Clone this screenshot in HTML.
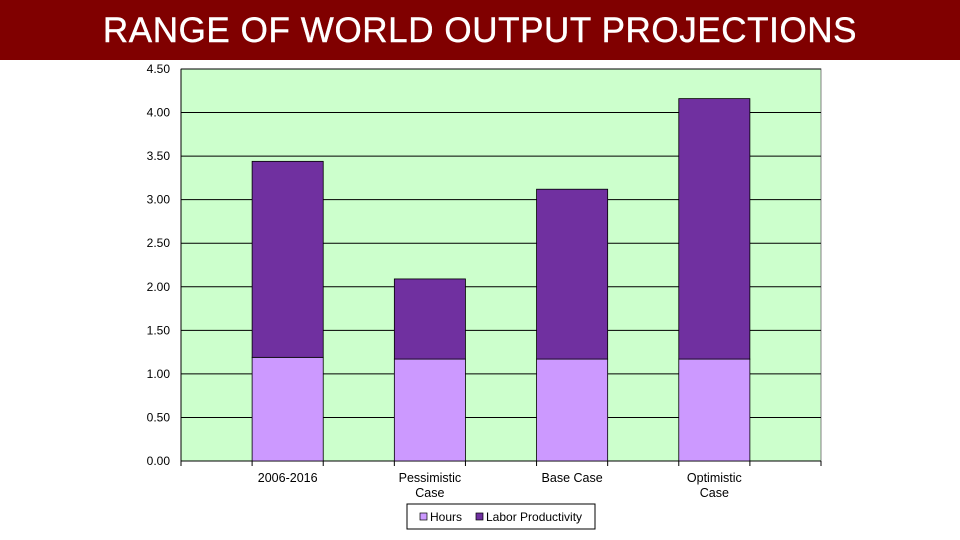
<!DOCTYPE html>
<html><head><meta charset="utf-8"><style>
body{margin:0;width:960px;height:540px;background:#fff;overflow:hidden;font-family:"Liberation Sans",sans-serif}
#title{position:absolute;left:0;top:0;width:960px;height:60px;background:#800000;color:#fff;font-size:35px;text-align:center;line-height:62px;letter-spacing:0.6px;-webkit-text-stroke:0.4px #fff}
</style></head><body>
<div id="title">RANGE OF WORLD OUTPUT PROJECTIONS</div>
<svg id="chart" width="960" height="540" style="position:absolute;left:0;top:0"></svg>
<script>
const categories=[["2006-2016"],["Pessimistic","Case"],["Base Case"],["Optimistic","Case"]];
const hours=[1.19,1.17,1.17,1.17];
const labor=[2.25,0.92,1.95,2.99];
const yTicks=[0,0.5,1,1.5,2,2.5,3,3.5,4,4.5];
const ns="http://www.w3.org/2000/svg";
const svg=document.getElementById('chart');
const X0=181,X1=821,Y0=461,Y1=69,YMAX=4.5;
const band=(X1-X0)/9;
function y(v){return Y0-(v/YMAX)*(Y0-Y1);}
function bx(i){return X0+band*(2*i+1);}
function mk(t,a){const e=document.createElementNS(ns,t);for(const k in a)e.setAttribute(k,a[k]);svg.appendChild(e);return e;}
let e=mk('rect',{x:X0,y:Y1,width:X1-X0,height:Y0-Y1,fill:'#ccffcc',stroke:'#808080','stroke-width':1});


yTicks.forEach(v=>{
 let g=mk('line',{x1:X0,x2:X1,y1:y(v),y2:y(v),stroke:'#000','stroke-width':1});
 
 
 let t=mk('text',{x:170,y:y(v)+4,'text-anchor':'end','font-size':12,fill:'#000'});
 t.textContent=v.toFixed(2);
 
 
});
for(let i=0;i<=9;i++){
 let l=mk('line',{x1:X0+band*i,x2:X0+band*i,y1:Y0,y2:Y0+5,stroke:'#000'});
 
 
}
mk('line',{x1:X0,x2:X0,y1:Y1,y2:Y0,stroke:'#000'});
mk('line',{x1:X0,x2:X1,y1:Y0,y2:Y0,stroke:'#000'});
categories.forEach((c,i)=>{
 let r=mk('rect',{x:bx(i),y:y(hours[i]),width:band,height:y(0)-y(hours[i]),fill:'#cc99ff',stroke:'#000','stroke-width':0.8});
 
 
 let r2=mk('rect',{x:bx(i),y:y(hours[i]+labor[i]),width:band,height:y(hours[i])-y(hours[i]+labor[i]),fill:'#7030a0',stroke:'#000','stroke-width':0.8});
 
 
 c.forEach((s,j)=>{
  let t=mk('text',{x:bx(i)+band/2,y:482+j*15,'text-anchor':'middle','font-size':12.5,fill:'#000'});
  t.textContent=s;
  
  
 });
});
let lg=mk('rect',{x:407,y:504,width:188,height:25,fill:'#fff',stroke:'#000'});


[['Hours','#cc99ff',420],['Labor Productivity','#7030a0',476]].forEach(d=>{
 let s=mk('rect',{x:d[2],y:513,width:7,height:7,fill:d[1],stroke:'#000','stroke-width':0.7});
 
 
 let t=mk('text',{x:d[2]+10,y:521,'font-size':12,fill:'#000'});
 t.textContent=d[0];
 
 
});
</script>
</body></html>
